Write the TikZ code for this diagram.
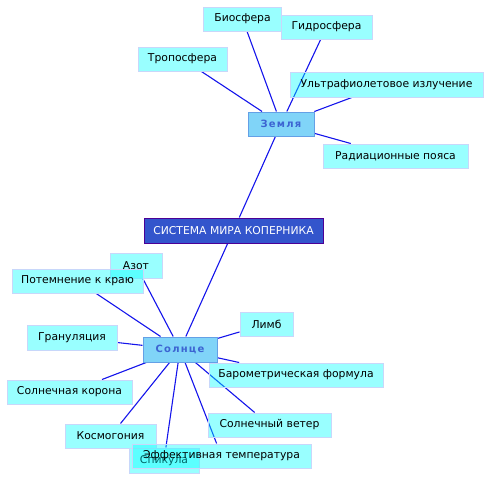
\documentclass[tikz,border=0pt]{standalone}
\usepackage{fontspec}
\setmainfont{DejaVu Sans}
\newfontfamily\hubfont[LetterSpace=12]{DejaVu Sans}
\usepackage{tikz}
\pgfdeclarelayer{back}
\pgfsetlayers{back,main}
\definecolor{leaffill}{RGB}{0,255,255}
\definecolor{leafline}{RGB}{200,215,250}
\definecolor{hubfill}{RGB}{128,212,248}
\definecolor{hubline}{RGB}{100,160,230}
\definecolor{hubtext}{RGB}{60,100,210}
\definecolor{rootfill}{RGB}{51,85,204}
\definecolor{rootline}{RGB}{75,0,150}
\definecolor{link}{RGB}{20,20,235}

\begin{document}
\begin{tikzpicture}[x=1pt,y=-1pt,
    leaf/.style={draw=leafline,line width=1pt,fill=leaffill,fill opacity=0.4,text opacity=1,
        text=black,minimum height=24pt,inner sep=0pt,font=\fontsize{10.8}{12}\selectfont},
    hub/.style={draw=hubline,line width=1pt,fill=hubfill,text=hubtext,minimum height=24pt,
        inner sep=0pt,font=\fontsize{10}{12}\hubfont\bfseries},
    root/.style={draw=rootline,line width=1pt,fill=rootfill,text=white,minimum height=25pt,
        inner sep=0pt,font=\fontsize{10.8}{12}\selectfont},
    wire/.style={link,line width=1.1pt}]
\useasboundingbox (0,0) rectangle (489,479);
% centre and the two planets
\node[root,minimum width=179pt] (sys) at (233.5,230.5) {СИСТЕМА МИРА КОПЕРНИКА};
\node[hub,minimum width=66pt] (zem) at (281,124) {Земля};
\node[hub,minimum width=74pt,minimum height=25pt] (sun) at (180,349.5) {Солнце};
% around the Earth
\node[leaf,minimum width=78pt] (bio) at (242.5,19) {Биосфера};
\node[leaf,minimum width=91pt] (gid) at (326.5,27) {Гидросфера};
\node[leaf,minimum width=89pt] (tro) at (182.5,59) {Тропосфера};
\node[leaf,minimum width=193pt,minimum height=25pt] (uf) at (386.5,84.5) {Ультрафиолетовое излучение};
\node[leaf,minimum width=145pt] (rad) at (395.5,156) {Радиационные пояса};
% around the Sun
\node[leaf,minimum width=52pt,minimum height=25pt] (azot) at (136,265.5) {Азот};
\node[leaf,minimum width=131pt] (pot) at (77.5,281) {Потемнение к краю};
\node[leaf,minimum width=53pt] (limb) at (266.5,324) {Лимб};
\node[leaf,minimum width=90pt,minimum height=25pt] (gran) at (72,337.5) {Грануляция};
\node[leaf,minimum width=174pt] (baro) at (296,375) {Барометрическая формула};
\node[leaf,minimum width=125pt] (kor) at (69.5,392) {Солнечная корона};
\node[leaf,minimum width=123pt] (veter) at (269.5,425) {Солнечный ветер};
\node[leaf,minimum width=91pt] (kosm) at (110.5,436) {Космогония};
\node[leaf,minimum width=70pt,minimum height=25pt] (spik) at (164,460.5) {Спикула};
\node[leaf,minimum width=179pt] (eff) at (221.5,456) {Эффективная температура};
% links, behind the boxes
\begin{pgfonlayer}{back}
\draw[wire] (sys) -- (zem) (sys) -- (sun);
\foreach \n in {bio,gid,tro,uf,rad}
  \draw[wire] (zem) -- (\n);
\foreach \n in {pot,azot,limb,gran,baro,kor,veter,kosm,spik,eff}
  \draw[wire] (sun) -- (\n);
\end{pgfonlayer}
\end{tikzpicture}
\end{document}
